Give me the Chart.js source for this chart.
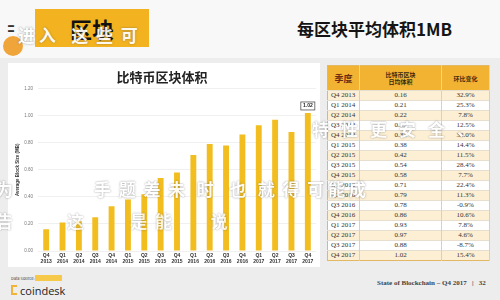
<!DOCTYPE html>
<html>
<head>
<meta charset="utf-8">
<script src="https://cdn.jsdelivr.net/npm/chart.js@4"></script>
<style>
  body { margin: 0; width: 500px; height: 300px; overflow: hidden; background: #ededed; font-family: "Noto Sans CJK SC", "Noto Sans", sans-serif; position: relative; }
  .abs { position: absolute; }
  #header { left: 0; top: 0; width: 500px; height: 58px; background: #f8f8f8; }
  #tag { left: 35px; top: 9px; width: 114px; height: 38px; background: #f3b21f; color: #111; font-weight: bold; font-size: 22px; line-height: 38px; text-align: center; }
  #subtitle { left: 297px; top: 16px; font-size: 17px; font-weight: bold; color: #151515; }
  #logo { left: 3px; top: 36px; width: 20px; height: 20px; border-radius: 50%; background: #f0a53a; }
  #logoTxt { left: 8px; top: 22px; font-size: 6px; line-height: 5px; font-weight: bold; color: #333; }
  #panel { left: 8px; top: 63px; width: 312px; height: 204px; background: #fff; }
  #chartBox { left: 8px; top: 63px; width: 310px; height: 205px; }
  table { position: absolute; left: 327px; top: 65px; width: 163px; border-collapse: collapse; font-family: "Liberation Serif", serif; font-size: 7px; color: #333; background: #fff; border: 1px solid #e2b865; }
  th { background: #f3b332; height: 24px; padding: 0; font-family: "Noto Sans CJK SC", sans-serif; font-size: 6px; line-height: 7px; color: #3a2a10; font-weight: bold; border-right: 1px solid #f7d58a; }
  th.big { font-size: 9px; color: #6b2c10; }
  td { height: 9px; padding: 0; line-height: 9px; border-right: 1px solid #d8d0c0; border-top: 1px solid #e6dfd0; }
  td.q { padding-left: 3px; }
  td.c { text-align: center; }
  tr.cream td { background: #fcefd4; }
  .ov { color: #fff; font-weight: bold; text-shadow: 0 0 2px rgba(90,90,90,0.7); white-space: pre; opacity: 0.92; }
  #src { left: 11px; top: 275px; font-size: 4px; color: #444; }
  #src span { background: #f6c94a; color: #f6c94a; }
  #cd { left: 20px; top: 283px; font-size: 11px; color: #222; font-family: "Open Sans", sans-serif; }
  #cdmark { left: 11px; top: 285px; width: 6px; height: 10px; border: 2px solid #f0b43a; border-right: none; box-sizing: border-box; }
  #foot { left: 377px; top: 279px; font-family: "Liberation Serif", serif; font-weight: bold; font-size: 7px; color: #444; white-space: pre; }
</style>
</head>
<body>
<div id="header" class="abs"></div>
<div id="logoTxt" class="abs">▬<br>▬</div>
<div id="logo" class="abs"></div>
<div id="tag" class="abs">区块</div>
<div id="subtitle" class="abs">每区块平均体积1MB</div>
<div id="panel" class="abs"></div>
<div id="chartBox" class="abs"><canvas id="blockChart"></canvas></div>
<table id="tbl"></table>
<div id="src" class="abs">Data Source: <span>CoinDesk.com</span></div>
<div id="cdmark" class="abs"></div>
<div id="cd" class="abs">coindesk</div>
<div id="foot" class="abs">State of Blockchain – Q4 2017   |   32</div>

<div class="abs ov" style="left:18px;top:22px;font-size:17px;">进 入    这  些  可</div>
<div class="abs ov" style="left:312px;top:116px;font-size:17px;letter-spacing:12px;">特性更安全、</div>
<div class="abs ov" style="left:-4px;top:176px;font-size:17px;">为                     手  题  差  未   时    也   就  得  可 能 成</div>
<div class="abs ov" style="left:-4px;top:208px;font-size:17px;opacity:0.8;">告              这            是  能          说</div>

<script>
const quarters = ['Q4 2013', 'Q1 2014', 'Q2 2014', 'Q3 2014', 'Q4 2014', 'Q1 2015', 'Q2 2015', 'Q3 2015', 'Q4 2015',
                  'Q1 2016', 'Q2 2016', 'Q3 2016', 'Q4 2016', 'Q1 2017', 'Q2 2017', 'Q3 2017', 'Q4 2017'];
const blockSize = [0.16, 0.21, 0.22, 0.25, 0.33, 0.38, 0.42, 0.54, 0.58, 0.71, 0.79, 0.78, 0.86, 0.93, 0.97, 0.88, 1.02];
const qoqChange = ['32.9%', '25.3%', '7.8%', '12.5%', '32.0%', '14.4%', '11.5%', '28.4%', '7.7%',
                   '22.4%', '11.3%', '-0.9%', '10.6%', '7.8%', '4.6%', '-8.7%', '15.4%'];
const yTicks = [0, 0.2, 0.4, 0.6, 0.8, 1.0, 1.2];

// table on the right
const tbl = document.getElementById('tbl');
let html = '<tr><th class="big" style="width:31px">季度</th><th style="width:81px">比特币区块<br>日均体积</th><th>环比变化</th></tr>';
quarters.forEach((q, i) => {
    html += `<tr class="${i % 2 === 0 ? 'cream' : ''}"><td class="q">${q}</td><td class="c">${blockSize[i].toFixed(2)}</td><td class="c">${qoqChange[i]}</td></tr>`;
});
tbl.innerHTML = html;

const lastLabel = {
    id: 'lastLabel',
    afterDatasetsDraw(chart) {
        const meta = chart.getDatasetMeta(0);
        const bar = meta.data[meta.data.length - 1];
        const ctx = chart.ctx;
        ctx.save();
        ctx.fillStyle = '#fff';
        ctx.strokeStyle = '#555';
        ctx.lineWidth = 0.8;
        ctx.fillRect(bar.x - 7, bar.y - 11, 14, 8);
        ctx.strokeRect(bar.x - 7, bar.y - 11, 14, 8);
        ctx.fillStyle = '#222';
        ctx.font = 'bold 5px Arial';
        ctx.textAlign = 'center';
        ctx.textBaseline = 'middle';
        ctx.fillText(blockSize[blockSize.length - 1].toFixed(2), bar.x, bar.y - 7);
        ctx.restore();
    }
};

new Chart(document.getElementById('blockChart'), {
    type: 'bar',
    data: {
        labels: quarters.map(q => q.split(' ')),
        datasets: [{ data: blockSize, backgroundColor: '#f2bd1f', barPercentage: 0.36, categoryPercentage: 1 }]
    },
    options: {
        responsive: true,
        maintainAspectRatio: false,
        animation: false,
        layout: { padding: { top: 6, right: 2, bottom: 3, left: 0 } },
        plugins: {
            legend: { display: false },
            tooltip: { enabled: false },
            title: {
                display: true, text: '比特币区块体积', color: '#222',
                font: { size: 13, weight: 'bold', family: '"Noto Sans CJK SC"' },
                padding: { top: 0, bottom: 4 }
            }
        },
        scales: {
            x: {
                grid: { display: false, drawTicks: false, tickLength: 0 },
                border: { display: false },
                ticks: { color: '#333', font: { size: 5, weight: 'bold', lineHeight: 1.1 }, padding: 2, maxRotation: 0, autoSkip: false },
                afterFit(s) { s.height = 14; }
            },
            y: {
                min: 0, max: 1.2,
                afterBuildTicks(s) { s.ticks = yTicks.map(v => ({ value: v })); },
                grid: { color: '#ececec', lineWidth: 0.8, drawTicks: false, tickLength: 0 },
                border: { display: false },
                ticks: { color: '#777', font: { size: 4.5 }, padding: 5, callback: v => v.toFixed(2) },
                title: { display: true, text: 'Average Block Size (MB)', color: '#333', font: { size: 4.5, weight: 'bold' }, padding: { top: 7, bottom: 0 } },
                afterFit(s) { s.width = 30; }
            }
        }
    },
    plugins: [lastLabel]
});
</script>
</body>
</html>
